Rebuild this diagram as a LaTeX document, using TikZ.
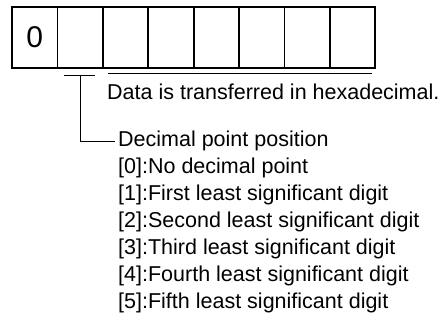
\documentclass[tikz,border=0pt]{standalone}
\usepackage{fontspec}
\setmainfont{Liberation Sans}
\begin{document}
\begin{tikzpicture}[x=1pt,y=-1pt,
  cell/.style={draw, line width=1.8pt, minimum width=45.4pt, minimum height=61pt, inner sep=0pt, outer sep=0pt},
  lbl/.style={anchor=west, inner sep=0pt, font=\fontsize{21.5}{21.5}\selectfont},
  conn/.style={line width=1pt}]
\useasboundingbox (0,0) rectangle (438,327);
\foreach \i in {0,...,7} {
  \node[cell] (c\i) at ({12+45.4*\i+22.7}, 37.5) {};
}
\node[font=\fontsize{30}{30}\selectfont] (zero) at (c0) {0};
% underlines
\coordinate (ua) at (64,75);
\coordinate (ub) at (95,75);
\coordinate (um) at (80,75);
\draw[conn] (ua) -- (ub);
\coordinate (va) at (108,73);
\coordinate (vb) at (372,73);
\draw[conn] (va) -- (vb);
% texts
\node[lbl] (hex) at (107,92) {Data is transferred in hexadecimal.};
\node[lbl] (dp) at (118,141) {Decimal point position};
\node[lbl] (l0) at (118,168) {[0]:No decimal point};
\node[lbl] (l1) at (118,195) {[1]:First least significant digit};
\node[lbl] (l2) at (118,222) {[2]:Second least significant digit};
\node[lbl] (l3) at (118,249) {[3]:Third least significant digit};
\node[lbl] (l4) at (118,276) {[4]:Fourth least significant digit};
\node[lbl] (l5) at (118,303) {[5]:Fifth least significant digit};
\draw[conn] (um) |- ([xshift=-3pt]dp.west);
\end{tikzpicture}
\end{document}
